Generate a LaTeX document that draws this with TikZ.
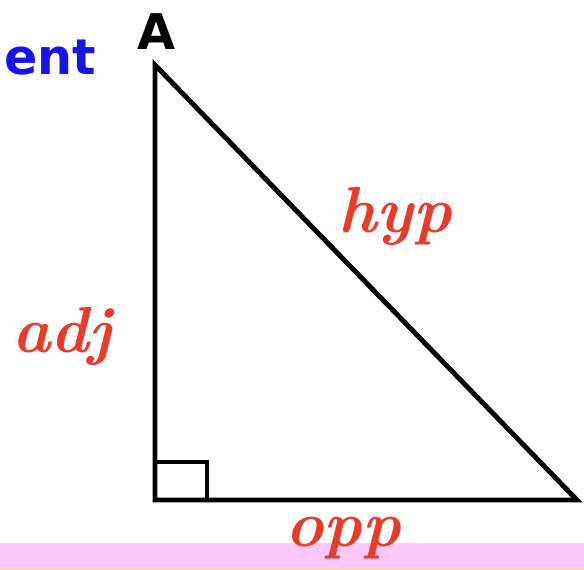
\documentclass[tikz,border=0pt]{standalone}
\usepackage{fontspec}
\newfontfamily\handfont{DejaVu Sans}
\usetikzlibrary{positioning}
\definecolor{myRed}{RGB}{234,58,40}
\definecolor{myBlue}{RGB}{20,20,235}
\definecolor{myPink}{RGB}{250,200,250}
\definecolor{myPeach}{RGB}{250,215,170}

\begin{document}
\begin{tikzpicture}[
				x=0.02cm, y=-0.02cm,
				side/.style={line width=2.8pt, line join=miter},
				rightmark/.style={line width=2.2pt},
				lbl/.style={text=myRed, inner sep=0pt, font=\fontsize{37}{37}\selectfont\bfseries\itshape},
				word/.style={inner sep=0pt, font=\handfont\fontsize{28}{28}\selectfont\bfseries}
			]
				\useasboundingbox (0,0) rectangle (584,570);
				\fill[myPink] (0,543) rectangle (584,570);
				\fill[myPeach] (0,567) rectangle (584,570);

				\coordinate (top) at (155,65);
				\coordinate (corner) at (155,500);
				\coordinate (right) at (577,500);

				\draw[side] (top) -- (corner) -- (right) -- cycle;
				\draw[rightmark] (155,462) -- (207,462) -- (207,500);

				\node[word, text=myBlue, anchor=west] (ent) at (4,58) {ent};
				\node[word] (vA) at (157,32) {A};
				\node[lbl] (hyp) at (395,216) {hyp};
				\node[lbl] (adj) at (62,336) {adj};
				\node[lbl] (opp) at (343,538) {opp};
			\end{tikzpicture}
\end{document}
